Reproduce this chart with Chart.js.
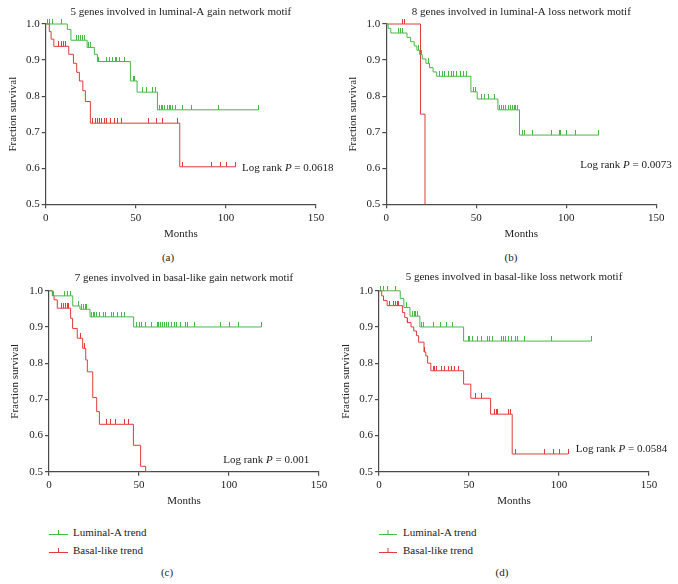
<!DOCTYPE html>
<html>
<head>
<meta charset="utf-8">
<script src="https://cdn.jsdelivr.net/npm/chart.js@4.4.0/dist/chart.umd.min.js"></script>
<style>
    body { margin: 0; background: #fff; width: 678px; height: 584px; position: relative; overflow: hidden;
           font-family: 'Liberation Serif', 'Times New Roman', serif; color: #222; }
    canvas { position: absolute; }
    .panelLabel { position: absolute; font-size: 11px; transform: translate(-50%, -50%); white-space: nowrap; }
    .legend { position: absolute; font-size: 11px; }
    .legend div { height: 18px; display: flex; align-items: center; white-space: nowrap; }
    .legend svg { display: block; }
</style>
</head>
<body>
<canvas id="chartA" width="339" height="250" style="left:0px;top:0px"></canvas>
<canvas id="chartB" width="339" height="250" style="left:339px;top:0px"></canvas>
<canvas id="chartC" width="339" height="250" style="left:0px;top:266px"></canvas>
<canvas id="chartD" width="339" height="250" style="left:339px;top:266px"></canvas>

<div class="panelLabel" style="left:168px;top:257px">(a)</div>
<div class="panelLabel" style="left:511px;top:257px">(b)</div>
<div class="panelLabel" style="left:167px;top:572px">(c)</div>
<div class="panelLabel" style="left:502px;top:572px">(d)</div>

<div class="legend" id="legendC" style="left:49px;top:523px"></div>
<div class="legend" id="legendD" style="left:379px;top:523px"></div>

<script>
// ---- data (months, fraction survival) ----
const xTicks = [0, 50, 100, 150];
const yTicks = [0.5, 0.6, 0.7, 0.8, 0.9, 1.0];
const seriesNames = ['Luminal-A trend', 'Basal-like trend'];
const panelTitles = [
    '5 genes involved in luminal-A gain network motif',
    '8 genes involved in luminal-A loss network motif',
    '7 genes involved in basal-like gain network motif',
    '5 genes involved in basal-like loss network motif'
];
const logRankP = ['0.0618', '0.0073', '0.001', '0.0584'];

// (a) luminal-A gain
const aLumTimes = [12, 14, 23, 27, 28.7, 47, 50.7, 62];
const aLumSurv = [0.985, 0.955, 0.935, 0.916, 0.896, 0.842, 0.811, 0.762];
const aLumCensor = [1, 2, 4, 9, 17, 18, 19.5, 20.5, 21.5, 24, 25, 29.5, 34, 35.5, 37, 38.5, 39.5, 41, 44,
    48.5, 49.5, 53.5, 56, 59, 61, 63, 64, 65, 66, 67.5, 68.5, 69.5, 70.5, 72, 76, 81, 96, 118];
const aLumEnd = 118;
const aBasTimes = [2, 3, 4.5, 12.8, 15.4, 17.2, 18.7, 20.6, 22, 24.8, 74.4];
const aBasSurv = [0.979, 0.958, 0.938, 0.916, 0.891, 0.866, 0.842, 0.815, 0.785, 0.725, 0.604];
const aBasCensor = [7, 8.5, 10, 11, 26, 27.5, 28.5, 30, 31, 32.5, 34, 36, 38, 40, 42, 57, 61.5, 65, 73,
    76, 92, 97, 100.5, 105.5];
const aBasEnd = 105.5;

// (b) luminal-A loss
const bLumTimes = [1, 2.5, 11.5, 13.5, 15.5, 17, 18.5, 20, 22, 24, 26, 28, 47, 50.5, 62, 74];
const bLumSurv = [0.988, 0.975, 0.963, 0.951, 0.939, 0.927, 0.915, 0.903, 0.891, 0.879, 0.867, 0.855,
    0.812, 0.792, 0.762, 0.692];
const bLumCensor = [6.5, 8, 9, 18, 19.5, 23.5, 29.5, 31, 32.5, 34.5, 36, 37.5, 39, 41, 43, 44.5, 48.5, 49.5,
    53, 54.5, 57, 60, 63, 64, 65, 66, 68, 69, 70, 71, 72, 73, 75.5, 76.5, 81, 92, 96, 96.5, 100, 105, 118];
const bLumEnd = 118;
const bBasTimes = [19, 21.5];
const bBasSurv = [0.75, 0];
const bBasCensor = [9, 10];
const bBasEnd = 21.5;

// (c) basal-like gain
const cLumTimes = [1.9, 13.2, 17.2, 22.8, 47];
const cLumSurv = [0.986, 0.958, 0.949, 0.928, 0.9];
const cLumCensor = [2.5, 8.5, 10, 12, 16.5, 18, 19, 20, 21, 23.5, 24.5, 25.5, 26.5, 28, 30, 31.5, 34.5, 36,
    38, 40, 42, 48.5, 50, 51.5, 53.5, 57, 60, 61, 62, 63, 64, 65, 66.5, 68, 69.5, 71, 73, 76, 77, 81, 95.5,
    100, 105, 118];
const cLumEnd = 118;
const cBasTimes = [1.9, 2.8, 4.6, 12, 13.1, 15.7, 18.7, 20.4, 21.3, 24.3, 26.5, 28, 46.9, 50.9, 53.7];
const cBasSurv = [0.987, 0.975, 0.952, 0.924, 0.896, 0.869, 0.841, 0.809, 0.776, 0.705, 0.666, 0.631,
    0.573, 0.515, 0.5];
const cBasCensor = [7, 8, 9, 10, 11, 17.5, 19.5, 32, 34, 37, 42, 44];
const cBasEnd = 56.5;

// (d) basal-like loss
const dLumTimes = [11.8, 13.8, 17.2, 22.7, 47];
const dLumSurv = [0.979, 0.954, 0.93, 0.9, 0.861];
const dLumCensor = [1, 2.5, 4.5, 9, 15, 18.5, 19.5, 20.5, 21.5, 23.5, 24.5, 30, 34, 37.5, 41, 49.5, 50.5,
    52, 54.5, 57, 60, 61.5, 63, 68, 69, 70.5, 72, 73.5, 76, 77, 81, 96, 118];
const dLumEnd = 118;
const dBasTimes = [1.5, 2.5, 4.5, 13, 14.3, 15.7, 17.8, 19.3, 20.8, 22, 25, 26, 27, 28.8, 47, 51, 62, 74];
const dBasSurv = [0.986, 0.973, 0.959, 0.94, 0.926, 0.912, 0.9, 0.889, 0.876, 0.858, 0.831, 0.82, 0.8,
    0.779, 0.742, 0.703, 0.659, 0.549];
const dBasCensor = [6, 8, 9, 10, 11, 16, 25.5, 30, 31, 32, 34.5, 36.5, 38.5, 40.5, 42, 44, 53.5, 57,
    64, 65, 66, 72, 73, 76, 92, 97, 100, 105];
const dBasEnd = 105;

// ---- styling ----
const GREEN = '#45b945';
const RED = '#e23b3b';
const AXIS = '#4a4a4a';
const TEXT = '#222';
const FONT_FAMILY = "'Liberation Serif', 'Times New Roman', serif";
const FONT = { family: FONT_FAMILY, size: 11 };

// Survival value at time t (last step at or before t)
function survivalAt(times, surv, t) {
    let s = 1;
    times.forEach((tt, i) => {
        if (tt <= t) s = surv[i];
    });
    return s;
}

// Step curve points, starting at (0, 1)
function stepPoints(times, surv, end) {
    const pts = [{ x: 0, y: 1 }];
    times.forEach((t, i) => pts.push({ x: t, y: surv[i] }));
    const last = pts[pts.length - 1];
    if (end > last.x) pts.push({ x: end, y: last.y });
    return pts;
}

function censorPoints(times, surv, censor) {
    return censor.map(t => ({ x: t, y: survivalAt(times, surv, t) }));
}

// Small upward censor tick used as point style
function makeTickMark(color) {
    const c = document.createElement('canvas');
    c.width = 1;
    c.height = 10;
    const g = c.getContext('2d');
    g.fillStyle = color;
    g.fillRect(0, 0, 1, 5);
    return c;
}

const greenTick = makeTickMark(GREEN);
const redTick = makeTickMark(RED);

// Draws "Log rank P = ..." inside the plot
const logRankPlugin = {
    id: 'logRank',
    afterDatasetsDraw(chart, args, opts) {
        const { ctx, scales } = chart;
        let px = scales.x.getPixelForValue(opts.at[0]);
        const py = scales.y.getPixelForValue(opts.at[1]);
        const parts = [
            ['Log rank ', `11px ${FONT_FAMILY}`],
            ['P', `italic 11px ${FONT_FAMILY}`],
            [' = ' + opts.p, `11px ${FONT_FAMILY}`]
        ];
        ctx.save();
        ctx.fillStyle = TEXT;
        ctx.textAlign = 'left';
        ctx.textBaseline = 'middle';
        parts.forEach(([txt, font]) => {
            ctx.font = font;
            ctx.fillText(txt, px, py);
            px += ctx.measureText(txt).width;
        });
        ctx.restore();
    }
};

function buildDatasets(lum, bas) {
    return [
        {
            type: 'line', data: stepPoints(lum.times, lum.surv, lum.end), stepped: true,
            borderColor: GREEN, borderWidth: 1, pointRadius: 0, fill: false,
            clip: { left: 2, top: 2, right: 2, bottom: 0 }
        },
        {
            type: 'line', data: stepPoints(bas.times, bas.surv, bas.end), stepped: true,
            borderColor: RED, borderWidth: 1, pointRadius: 0, fill: false,
            clip: { left: 2, top: 2, right: 2, bottom: 0 }
        },
        {
            type: 'scatter', data: censorPoints(lum.times, lum.surv, lum.censor),
            pointStyle: greenTick, pointRadius: 3, clip: false
        },
        {
            type: 'scatter', data: censorPoints(bas.times, bas.surv, bas.censor),
            pointStyle: redTick, pointRadius: 3, clip: false
        }
    ];
}

function makeChart(id, title, p, lum, bas, box) {
    const ctx = document.getElementById(id).getContext('2d');
    return new Chart(ctx, {
        data: { datasets: buildDatasets(lum, bas) },
        options: {
            responsive: false,
            animation: false,
            devicePixelRatio: 1,
            layout: { padding: { left: 0, right: box.right, top: 0, bottom: 0 } },
            plugins: {
                legend: { display: false },
                tooltip: { enabled: false },
                title: {
                    display: true, text: title, fullSize: false, color: TEXT,
                    font: { family: FONT_FAMILY, size: 11, weight: 'normal' },
                    padding: { top: box.titleTop, bottom: box.titleBottom }
                },
                logRank: { p: p, at: box.pAt }
            },
            scales: {
                x: {
                    type: 'linear', min: 0, max: 150,
                    afterBuildTicks: s => { s.ticks = xTicks.map(v => ({ value: v })); },
                    afterFit: s => { s.height = box.xHeight; },
                    grid: { display: true, drawOnChartArea: false, drawTicks: true, tickLength: 4, color: AXIS, lineWidth: 1.2 },
                    border: { display: true, color: AXIS, width: 1.2 },
                    ticks: { color: TEXT, font: FONT, padding: 3, maxRotation: 0 },
                    title: { display: true, text: 'Months', color: TEXT, font: FONT, padding: { top: 0, bottom: box.monthsPad } }
                },
                y: {
                    type: 'linear', min: 0.5, max: 1.0,
                    afterBuildTicks: s => { s.ticks = yTicks.map(v => ({ value: v })); },
                    afterFit: s => { s.width = box.yWidth; },
                    grid: { display: true, drawOnChartArea: false, drawTicks: true, tickLength: 4, color: AXIS, lineWidth: 1.2 },
                    border: { display: true, color: AXIS, width: 1.2 },
                    ticks: { color: TEXT, font: FONT, padding: 2, callback: v => v.toFixed(1) },
                    title: { display: true, text: 'Fraction survival', color: TEXT, font: FONT, padding: { top: box.ytPad, bottom: 0 } }
                }
            }
        },
        plugins: [logRankPlugin]
    });
}

makeChart('chartA', panelTitles[0], logRankP[0],
    { times: aLumTimes, surv: aLumSurv, censor: aLumCensor, end: aLumEnd },
    { times: aBasTimes, surv: aBasSurv, censor: aBasCensor, end: aBasEnd },
    { right: 23, yWidth: 45.7, xHeight: 45.7, monthsPad: 9.4, titleTop: 5.4, titleBottom: 5.4, ytPad: 6.1, pAt: [109, 0.6] });

makeChart('chartB', panelTitles[1], logRankP[1],
    { times: bLumTimes, surv: bLumSurv, censor: bLumCensor, end: bLumEnd },
    { times: bBasTimes, surv: bBasSurv, censor: bBasCensor, end: bBasEnd },
    { right: 21.7, yWidth: 47.3, xHeight: 45.7, monthsPad: 9.4, titleTop: 5.7, titleBottom: 5.1, ytPad: 7.4, pAt: [107.8, 0.608] });

makeChart('chartC', panelTitles[2], logRankP[2],
    { times: cLumTimes, surv: cLumSurv, censor: cLumCensor, end: cLumEnd },
    { times: cBasTimes, surv: cBasSurv, censor: cBasCensor, end: cBasEnd },
    { right: 20, yWidth: 49, xHeight: 44.3, monthsPad: 8.4, titleTop: 5.7, titleBottom: 5.9, ytPad: 8.4, pAt: [96.8, 0.531] });

makeChart('chartD', panelTitles[3], logRankP[3],
    { times: dLumTimes, surv: dLumSurv, censor: dLumCensor, end: dLumEnd },
    { times: dBasTimes, surv: dBasSurv, censor: dBasCensor, end: dBasEnd },
    { right: 29, yWidth: 40, xHeight: 44.3, monthsPad: 8.4, titleTop: 4.4, titleBottom: 7.2, ytPad: 0.7, pAt: [109.3, 0.562] });

// Legend below the bottom panels: short line with a censor tick
function buildLegend(id, symbolWidth, gap) {
    const el = document.getElementById(id);
    el.innerHTML = '';
    [GREEN, RED].forEach((color, i) => {
        const row = document.createElement('div');
        const mid = symbolWidth / 2;
        row.innerHTML =
            `<svg width="${symbolWidth}" height="10" style="margin-right:${gap}px">` +
            `<line x1="0" y1="7.5" x2="${symbolWidth}" y2="7.5" stroke="${color}" stroke-width="1"/>` +
            `<line x1="${mid}" y1="3" x2="${mid}" y2="7.5" stroke="${color}" stroke-width="1"/></svg>` +
            `<span>${seriesNames[i]}</span>`;
        el.appendChild(row);
    });
}

buildLegend('legendC', 19, 5);
buildLegend('legendD', 18, 6);
</script>
</body>
</html>
